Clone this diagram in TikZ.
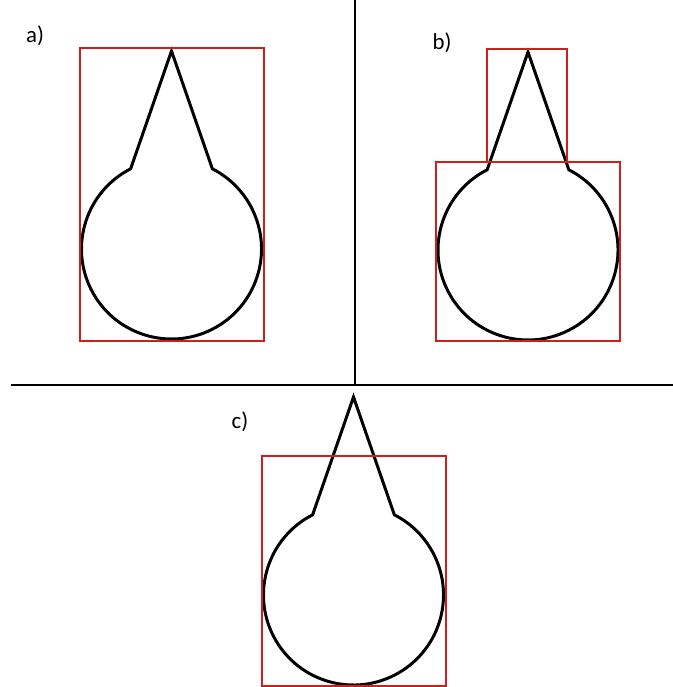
\documentclass[tikz,border=0pt]{standalone}
\usepackage{fontspec}
\setmainfont{Carlito}
\usepackage{tikz}
\definecolor{boxred}{HTML}{D01E1E}
\tikzset{
  frame/.style={draw=boxred,line width=1.7pt},
  outline/.style={draw=black,line width=1.7pt,line join=miter},
  axis/.style={draw=black,line width=1.5pt},
  tag/.style={font=\fontsize{13}{15}\selectfont,inner sep=0pt},
  pics/drop/.style={code={
    \draw[outline] (0,198) -- (117:90) arc[start angle=117,end angle=423,radius=90] -- cycle;
  }},
}

\begin{document}
\begin{tikzpicture}[x=0.02cm,y=0.02cm]
  \useasboundingbox (0,0) rectangle (673,687);
  % dividing lines
  \draw[axis] (11,302) -- (673,302);
  \draw[axis] (355,302) -- (355,687);
  % a) one box round the whole shape
  \node[tag] (la) at (35,651) {a)};
  \pic at (171.5,438) {drop};
  \draw[frame] (80,639) rectangle (264,346);
  % b) two boxes, tip and body
  \node[tag] (lb) at (442,644) {b)};
  \pic at (528,437) {drop};
  \draw[frame] (487,638) rectangle (567,525);
  \draw[frame] (436,525) rectangle (620,346);
  % c) box cuts the tip off
  \node[tag] (lc) at (240,265) {c)};
  \pic at (353.5,92) {drop};
  \draw[frame] (262,231) rectangle (446,1);
\end{tikzpicture}
\end{document}
